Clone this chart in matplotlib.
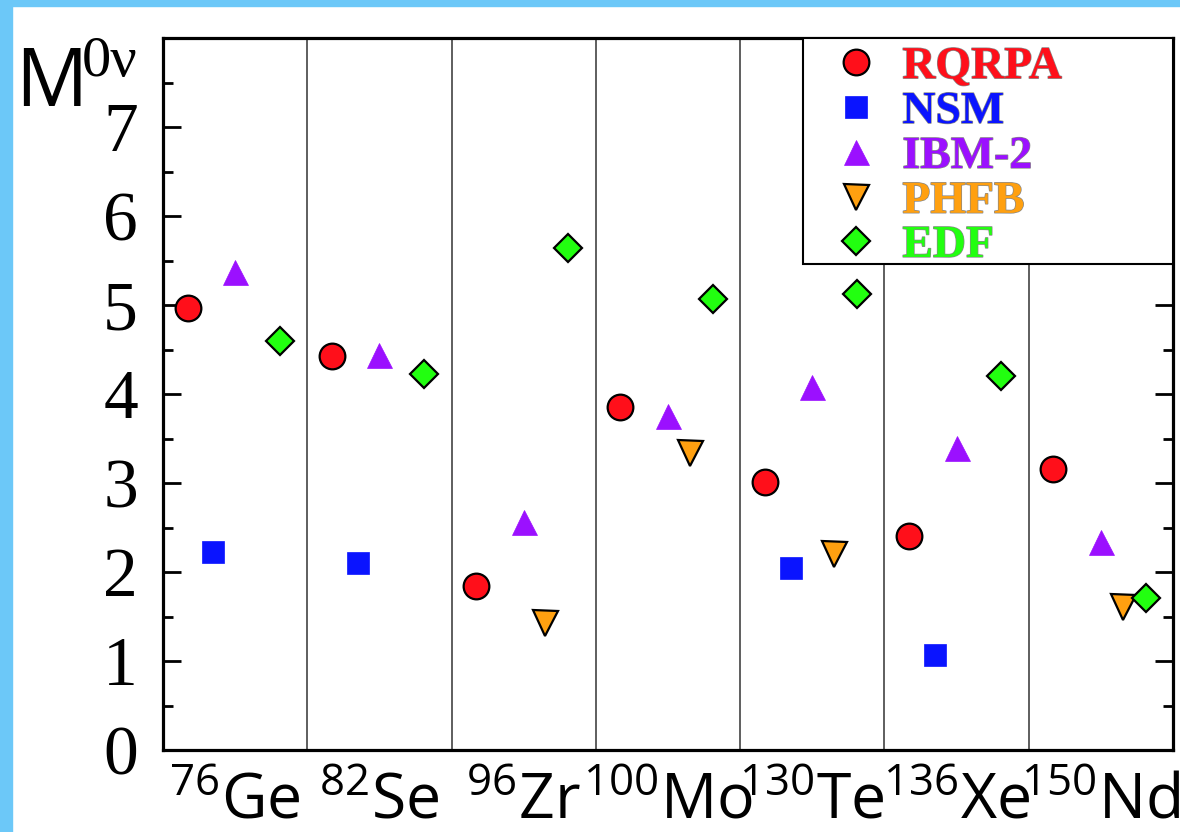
import numpy as np
import matplotlib
matplotlib.use("Agg")
import matplotlib.pyplot as plt
import matplotlib.patches as mpatches
import matplotlib.patheffects as pe
from matplotlib.ticker import MultipleLocator

nuclei = ["Ge", "Se", "Zr", "Mo", "Te", "Xe", "Nd"]
mass = ["76", "82", "96", "100", "130", "136", "150"]

# NaN = no calculation for that nucleus
rqrpa = [4.97, 4.43, 1.84, 3.85, 3.01, 2.41, 3.16]
nsm = [2.22, 2.10, np.nan, np.nan, 2.05, 1.07, np.nan]
ibm2 = [5.37, 4.44, 2.56, 3.75, 4.08, 3.39, 2.34]
phfb = [np.nan, np.nan, 1.43, 3.34, 2.20, np.nan, 1.61]
edf = [4.60, 4.22, 5.64, 5.07, 5.12, 4.20, 1.71]

fig = plt.figure(figsize=(11.8, 8.32), dpi=100)
fig.patch.set_facecolor("white")
# light blue frame on the left and top
fig.patches.append(mpatches.Rectangle((0, 0), 12 / 1180, 1, transform=fig.transFigure,
                                      color="#6cc8f8", zorder=0))
fig.patches.append(mpatches.Rectangle((0, 1 - 6 / 832), 1, 6 / 832, transform=fig.transFigure,
                                      color="#6cc8f8", zorder=0))

ax = fig.add_axes([163 / 1180, 82 / 832, 1010 / 1180, 712 / 832])

x = np.arange(len(nuclei))
series = [
    ("RQRPA", rqrpa, 0.17, "o", "#ff0f1a", "black", 18.5, 1.6),
    ("NSM", nsm, 0.35, "s", "#0a14ff", "#0a14ff", 16, 0.5),
    ("IBM-2", ibm2, 0.50, "^", "#9b10ff", "#9b10ff", 18, 0.5),
    ("PHFB", phfb, 0.65, "v", "#ffa010", "black", 18, 1.6),
    ("EDF", edf, 0.81, "D", "#22ff10", "black", 14.5, 1.6),
]
for name, vals, off, mk, fc, ec, ms, mew in series:
    ax.plot(x + off, vals, linestyle="none", marker=mk, markersize=ms,
            markerfacecolor=fc, markeredgecolor=ec, markeredgewidth=mew,
            label=name, zorder=3)

for i in range(1, len(nuclei)):
    ax.axvline(i, color="#333333", linewidth=1.1, zorder=1)

ax.set_xlim(0, len(nuclei))
ax.set_ylim(0, 8)
ax.set_xticks([])
ax.yaxis.set_major_locator(MultipleLocator(1))
ax.yaxis.set_minor_locator(MultipleLocator(0.5))
ax.tick_params(axis="y", which="major", direction="in", length=13, width=2,
               right=True, labelsize=50, pad=18)
ax.tick_params(axis="y", which="minor", direction="in", length=7, width=2, right=True)
ax.set_yticks(range(0, 8))
for lab in ax.get_yticklabels():
    lab.set_fontfamily("Liberation Serif")
for s in ax.spines.values():
    s.set_linewidth(2.3)

# x labels with mass number superscripts
for i, (el, a) in enumerate(zip(nuclei, mass)):
    ax.text(i + 0.5, -0.24, r"$^{\mathregular{%s}}$%s" % (a, el),
            ha="center", va="top", fontsize=45, fontfamily="Open Sans")

# y label M^{0nu}
fig.text(15 / 1180, 1 - 106 / 832, "M", fontsize=58, fontfamily="Open Sans",
         ha="left", va="baseline")
fig.text(82 / 1180, 1 - 76 / 832, "0\u03bd", fontsize=42, fontfamily="Liberation Serif",
         ha="left", va="baseline")

# legend box drawn by hand to match the wide frame
ax.add_patch(mpatches.Rectangle((0.634, 0.683), 0.366, 0.317, transform=ax.transAxes,
                                facecolor="white", edgecolor="black", linewidth=1.5,
                                zorder=4))
row_y = [0.966, 0.903, 0.840, 0.777, 0.715]
for (name, vals, off, mk, fc, ec, ms, mew), ry in zip(series, row_y):
    ax.plot([0.686], [ry], transform=ax.transAxes, linestyle="none", marker=mk,
            markersize=ms, markerfacecolor=fc, markeredgecolor=ec,
            markeredgewidth=mew, zorder=5, clip_on=False)
    ax.text(0.732, ry, name, transform=ax.transAxes, ha="left", va="center_baseline",
            fontsize=33, fontweight="bold", fontfamily="Liberation Serif", color=fc,
            zorder=5, path_effects=[pe.withStroke(linewidth=1, foreground="#888888")])

fig.savefig("out.png", dpi=100, facecolor="white")
